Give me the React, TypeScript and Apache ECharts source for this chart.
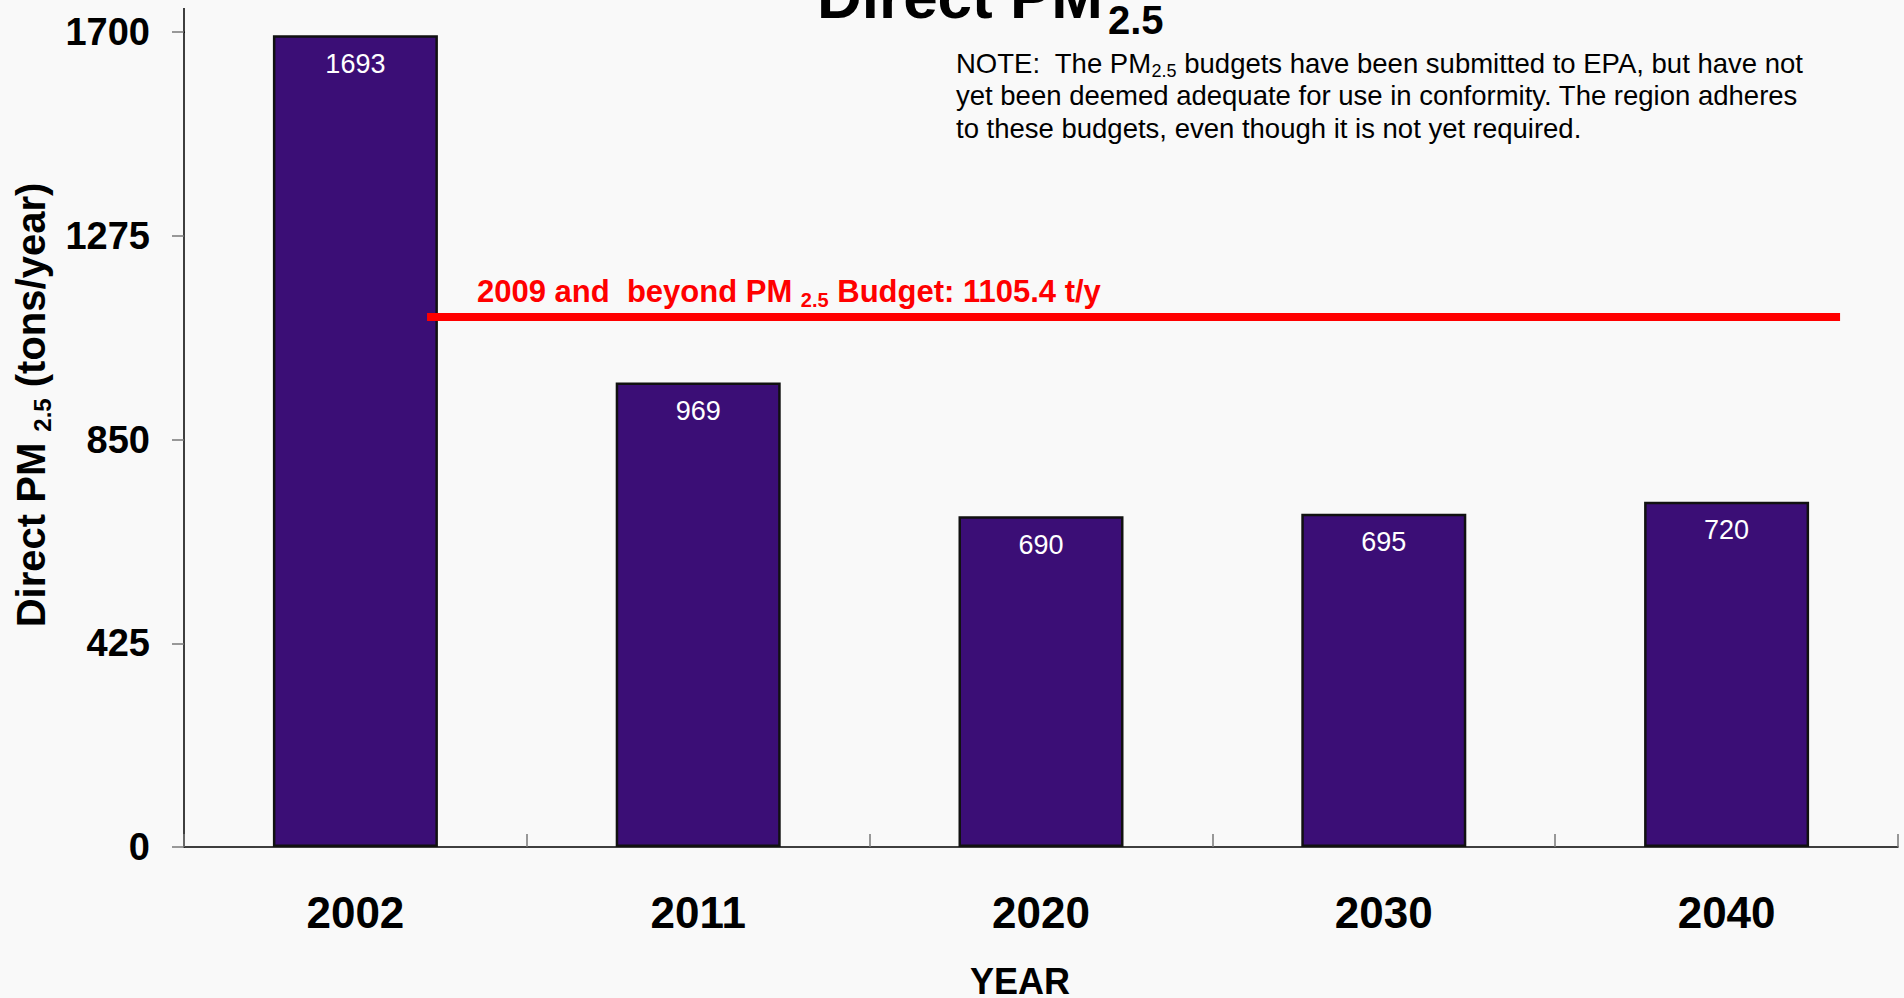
import React, { useEffect, useRef } from "react";
import * as echarts from "echarts";

const years = ["2002", "2011", "2020", "2030", "2040"];
const emissions = [1693, 969, 690, 695, 720];
const yMin = 0;
const yMax = 1700;
const yInterval = 425;
const budgetValue = 1105.4;
// start / end of the budget line, in category-band units along the x axis
const budgetSpan = [0.709, 4.831];

const FONT = "Liberation Sans, Arial, sans-serif";

export default function App() {
  const ref = useRef<HTMLDivElement>(null);

  useEffect(() => {
    if (!ref.current) return;
    const chart = echarts.init(ref.current, null, { renderer: "svg" });
    chart.setOption({
      animation: false,
      backgroundColor: "#f9f9f9",
      grid: { left: 184, right: 6, top: 32, bottom: 151 },
      xAxis: [
        {
          type: "category",
          data: years,
          axisLine: { show: true, lineStyle: { color: "#000", width: 1.5 } },
          axisTick: {
            show: true,
            inside: true,
            length: 13,
            lineStyle: { color: "#777", width: 1.5 },
          },
          axisLabel: {
            fontFamily: FONT,
            fontWeight: "bold",
            fontSize: 44,
            color: "#000",
            margin: 65,
            verticalAlign: "middle",
          },
          splitLine: { show: false },
        },
        { type: "value", min: 0, max: years.length, show: false },
      ],
      yAxis: {
        type: "value",
        min: yMin,
        max: yMax,
        interval: yInterval,
        axisLine: { show: true, lineStyle: { color: "#000", width: 1.5 } },
        axisTick: { show: true, length: 12, lineStyle: { color: "#777", width: 1.5 } },
        axisLabel: {
          fontFamily: FONT,
          fontWeight: "bold",
          fontSize: 38,
          color: "#000",
          margin: 34,
          formatter: (v: number) => String(v),
        },
        splitLine: { show: false },
      },
      series: [
        {
          type: "bar",
          data: emissions,
          barWidth: 165,
          itemStyle: { color: "#3b0e76", borderColor: "#111", borderWidth: 2.5 },
          label: {
            show: true,
            position: "insideTop",
            distance: 15,
            color: "#fff",
            fontFamily: FONT,
            fontSize: 27,
          },
          z: 2,
        },
        {
          type: "line",
          xAxisIndex: 1,
          data: budgetSpan.map((x) => [x, budgetValue]),
          symbol: "none",
          lineStyle: { color: "#ff0000", width: 8 },
          z: 5,
        },
      ],
      graphic: [
        {
          type: "line",
          shape: { x1: 184, y1: 8, x2: 184, y2: 33 },
          style: { stroke: "#000", lineWidth: 1.5 },
        },
        {
          type: "text",
          x: 817,
          y: -4,
          style: {
            text: "Direct PM",
            font: `bold 62px ${FONT}`,
            fill: "#000",
            align: "left",
            verticalAlign: "middle",
          },
        },
        {
          type: "text",
          x: 1108,
          y: 20,
          style: {
            text: "2.5",
            font: `bold 40px ${FONT}`,
            fill: "#000",
            align: "left",
            verticalAlign: "middle",
          },
        },
        {
          type: "text",
          x: 956,
          y: 47,
          style: {
            text:
              "{m|NOTE:  The PM}{s|2.5}{m| budgets have been submitted to EPA, but have not}\n" +
              "{m|yet been deemed adequate for use in conformity. The region adheres}\n" +
              "{m|to these budgets, even though it is not yet required.}",
            align: "left",
            verticalAlign: "top",
            fill: "#000",
            rich: {
              m: { fontFamily: FONT, fontSize: 27.5, lineHeight: 32.5, fill: "#000" },
              s: {
                fontFamily: FONT,
                fontSize: 18,
                lineHeight: 15,
                verticalAlign: "bottom",
                fill: "#000",
              },
            },
          },
        },
        {
          type: "text",
          x: 477,
          y: 272,
          style: {
            text: `{m|2009 and  beyond PM }{s|2.5}{m| Budget: ${budgetValue} t/y}`,
            align: "left",
            verticalAlign: "top",
            rich: {
              m: {
                fontFamily: FONT,
                fontWeight: "bold",
                fontSize: 31,
                lineHeight: 38,
                fill: "#ff0000",
              },
              s: {
                fontFamily: FONT,
                fontWeight: "bold",
                fontSize: 20,
                lineHeight: 14,
                verticalAlign: "bottom",
                fill: "#ff0000",
              },
            },
          },
        },
        {
          type: "text",
          x: 31,
          y: 405,
          rotation: Math.PI / 2,
          style: {
            text: "{m|Direct PM }{s|2.5}{m| (tons/year)}",
            align: "center",
            verticalAlign: "middle",
            rich: {
              m: {
                fontFamily: FONT,
                fontWeight: "bold",
                fontSize: 40,
                lineHeight: 46,
                fill: "#000",
              },
              s: {
                fontFamily: FONT,
                fontWeight: "bold",
                fontSize: 24,
                lineHeight: 16,
                verticalAlign: "bottom",
                fill: "#000",
              },
            },
          },
        },
        {
          type: "text",
          x: 1020,
          y: 981,
          style: {
            text: "YEAR",
            font: `bold 36px ${FONT}`,
            fill: "#000",
            align: "center",
            verticalAlign: "middle",
          },
        },
      ],
    });
    return () => chart.dispose();
  }, []);

  return (
    <div
      ref={ref}
      style={{ position: "fixed", left: 0, top: 0, width: 1904, height: 998 }}
    />
  );
}
